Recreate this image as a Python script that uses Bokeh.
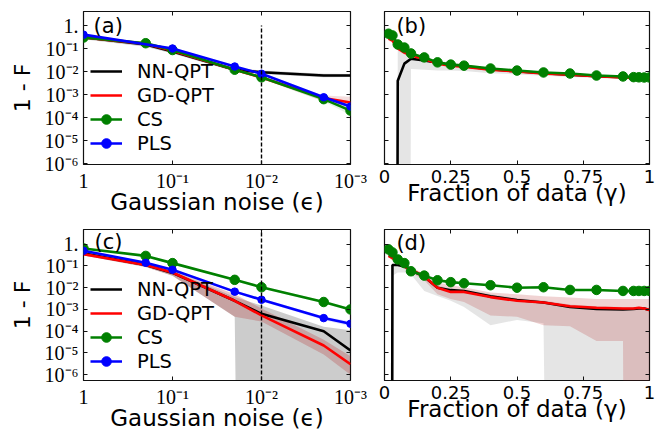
import numpy as np
from bokeh.plotting import figure
from bokeh.layouts import gridplot
from bokeh.models import (Range1d, FixedTicker, LogAxis, LinearAxis, Legend,
                          LegendItem, Label)
from bokeh.embed import file_html
from bokeh.resources import INLINE

# ---------------- data ----------------
noise = [1, 0.2, 0.1, 0.02, 0.01, 0.002, 0.001]
noise_pls_a = [1, 0.1, 0.02, 0.01, 0.002, 0.001]
frac = [0.015, 0.03, 0.05, 0.075, 0.1, 0.15, 0.2, 0.25, 0.3, 0.4, 0.5,
        0.6, 0.7, 0.8, 0.9, 0.94, 0.96, 0.98, 1.0]
eps_marker = 0.01

# panel (a): noise, dataset 1
a_nn = [0.31, 0.15, 0.074, 0.012, 0.0093, 0.0067, 0.0067]
a_nn_lo = [0.25, 0.12, 0.06, 0.010, 0.0078, 0.0057, 0.0058]
a_nn_hi = [0.38, 0.19, 0.09, 0.0145, 0.011, 0.008, 0.0078]
a_gd = [0.30, 0.16, 0.08, 0.012, 0.0055, 0.0007, 0.00045]
a_gd_lo = [0.26, 0.14, 0.07, 0.0105, 0.0048, 0.0005, 0.0003]
a_gd_hi = [0.34, 0.18, 0.09, 0.0135, 0.0062, 0.0009, 0.0008]
a_cs = [0.30, 0.17, 0.086, 0.012, 0.0056, 0.00063, 0.0002]
a_cs_lo = [0.26, 0.15, 0.075, 0.0105, 0.0048, 0.0005, 0.00013]
a_cs_hi = [0.34, 0.19, 0.097, 0.0135, 0.0064, 0.00075, 0.00028]
a_pls = [0.40, 0.10, 0.0165, 0.0080, 0.00076, 0.0003]
a_pls_lo = [0.36, 0.09, 0.0148, 0.0071, 0.00065, 0.00024]
a_pls_hi = [0.44, 0.11, 0.0183, 0.009, 0.00088, 0.00037]

# panel (b): fraction of data, dataset 1
b_nn = [0, 0, 0.004, 0.022, 0.036, 0.03, 0.024, 0.019, 0.017, 0.0125, 0.0102,
        0.0084, 0.0073, 0.0063, 0.0056, 0.0053, 0.0051, 0.005, 0.0049]
b_nn_lo = [0, 0, 0, 0, 0.013, 0.012, 0.011, 0.011, 0.0105, 0.0085, 0.0075,
           0.0065, 0.0058, 0.0052, 0.0047, 0.0045, 0.0044, 0.0043, 0.0042]
b_nn_hi = [0, 0, 0.15, 0.1, 0.06, 0.042, 0.03, 0.024, 0.021, 0.015, 0.012,
           0.0098, 0.0085, 0.0073, 0.0065, 0.0062, 0.006, 0.0058, 0.0057]
b_gd = [0.27, 0.22, 0.10, 0.066, 0.05, 0.035, 0.022, 0.018, 0.016, 0.012, 0.010,
        0.0082, 0.0072, 0.0062, 0.0055, 0.0052, 0.0050, 0.0049, 0.0048]
b_gd_lo = [0.22, 0.18, 0.085, 0.055, 0.042, 0.03, 0.019, 0.0155, 0.0138, 0.0104,
           0.0087, 0.0071, 0.0062, 0.0054, 0.0048, 0.0045, 0.0043, 0.0042, 0.0041]
b_gd_hi = [0.32, 0.26, 0.12, 0.08, 0.06, 0.041, 0.026, 0.021, 0.0185, 0.014,
           0.0115, 0.0095, 0.0083, 0.0072, 0.0064, 0.006, 0.0058, 0.0057, 0.0056]
b_cs = [0.44, 0.37, 0.15, 0.11, 0.061, 0.041, 0.025, 0.020, 0.018, 0.0135, 0.011,
        0.0091, 0.0082, 0.0067, 0.0061, 0.0057, 0.0056, 0.0055, 0.0055]
b_cs_lo = [0.40, 0.33, 0.135, 0.099, 0.055, 0.037, 0.0225, 0.018, 0.0162, 0.0122,
           0.0099, 0.0082, 0.0074, 0.006, 0.0055, 0.0051, 0.005, 0.005, 0.005]
b_cs_hi = [0.48, 0.41, 0.165, 0.121, 0.067, 0.045, 0.0275, 0.022, 0.0198, 0.0149,
           0.0121, 0.01, 0.009, 0.0074, 0.0067, 0.0063, 0.0062, 0.006, 0.006]

# panel (c): noise, dataset 2
c_nn = [0.38, 0.11, 0.048, 0.0025, 0.00063, 0.0001, 1.3e-5]
c_nn_lo = [0.30, 0.09, 0.035, 0.00046, 0, 0, 0]
c_nn_hi = [0.45, 0.13, 0.058, 0.0037, 0.0015, 0.00016, 0.00011]
c_gd = [0.35, 0.11, 0.05, 0.0025, 0.00053, 2.2e-5, 3.0e-6]
c_gd_lo = [0.30, 0.09, 0.035, 0.00046, 0.00028, 8.5e-6, 1.0e-6]
c_gd_hi = [0.40, 0.13, 0.062, 0.005, 0.0011, 4.0e-5, 7e-6]
c_cs = [0.64, 0.29, 0.135, 0.023, 0.0105, 0.0022, 0.001]
c_cs_lo = [0.58, 0.26, 0.12, 0.020, 0.0092, 0.0019, 0.00085]
c_cs_hi = [0.70, 0.32, 0.15, 0.026, 0.012, 0.0025, 0.00115]
c_pls = [0.5, 0.14, 0.067, 0.0066, 0.0028, 0.0004, 0.00022]
c_pls_lo = [0.45, 0.125, 0.06, 0.0058, 0.0024, 0.00033, 0.00017]
c_pls_hi = [0.55, 0.155, 0.075, 0.0076, 0.0033, 0.00048, 0.00028]

# panel (d): fraction of data, dataset 2
d_nn = [0, 0.11, 0.11, 0.095, 0.065, 0.032, 0.01, 0.0077, 0.0071, 0.004, 0.0027,
        0.0021, 0.0013, 0.00105, 0.001, 0.00105, 0.0011, 0.0011, 0.00095]
d_nn_lo = [0, 0.035, 0.05, 0.05, 0.04, 0.0071, 0.0042, 0.0025, 0.0013, 0.00019,
           0.00033, 0.00023, 0, 0, 0, 0, 0, 0, 0]
d_nn_hi = [0, 0.13, 0.13, 0.11, 0.08, 0.04, 0.013, 0.009, 0.0085, 0.005, 0.0033,
           0.0026, 0.0017, 0.0014, 0.0013, 0.0013, 0.0013, 0.0013, 0.0012]
d_gd = [0.29, 0.23, 0.16, 0.095, 0.067, 0.033, 0.01, 0.0064, 0.0064, 0.0037,
        0.0025, 0.0021, 0.0014, 0.0012, 0.0011, 0.0011, 0.0012, 0.0011, 0.00095]
d_gd_lo = [0.25, 0.18, 0.13, 0.075, 0.05, 0.022, 0.005, 0.003, 0.0022, 0.00053,
           0.00046, 0.00019, 0.00017, 3.5e-5, 3.5e-5, 0, 0, 0, 0]
d_gd_hi = [0.35, 0.27, 0.19, 0.12, 0.085, 0.045, 0.0175, 0.013, 0.0105, 0.006,
           0.005, 0.004, 0.0035, 0.003, 0.003, 0.003, 0.003, 0.003, 0.003]
d_cs = [0.58, 0.42, 0.20, 0.135, 0.057, 0.036, 0.022, 0.018, 0.016, 0.013, 0.010,
        0.0105, 0.0079, 0.0079, 0.0071, 0.0071, 0.0071, 0.0071, 0.0071]
d_cs_lo = [0.53, 0.38, 0.18, 0.122, 0.051, 0.032, 0.0198, 0.0162, 0.0144, 0.0117,
           0.009, 0.0094, 0.0071, 0.0071, 0.0064, 0.0064, 0.0064, 0.0064, 0.0064]
d_cs_hi = [0.63, 0.46, 0.22, 0.148, 0.063, 0.04, 0.0242, 0.0198, 0.0176, 0.0143,
           0.011, 0.0116, 0.0087, 0.0087, 0.0078, 0.0078, 0.0078, 0.0078, 0.0078]

# ticks and texts
log_x_ticks = [1, 0.1, 0.01, 0.001]
log_x_labels = ["1", "10⁻¹", "10⁻²", "10⁻³"]
lin_x_ticks = [0, 0.25, 0.5, 0.75, 1]
lin_x_labels = ["0", "0.25", "0.5", "0.75", "1"]
y_ticks = [1, 1e-1, 1e-2, 1e-3, 1e-4, 1e-5, 1e-6]
y_labels = ["1.", "10⁻¹", "10⁻²", "10⁻³", "10⁻⁴", "10⁻⁵", "10⁻⁶"]
series_names = ["NN-QPT", "GD-QPT", "CS", "PLS"]
xlabel_noise = "Gaussian noise (ϵ)"
xlabel_frac = "Fraction of data (γ)"
ylabel = "1 - F"

FLOOR = 1e-100
SERIF = "Liberation Serif"
SANS = "DejaVu Sans"
C_NN, C_GD, C_CS, C_PLS = "black", "red", "green", "blue"
FRAME = "#111111"


def fl(v):
    return np.maximum(np.asarray(v, dtype=float), FLOOR)


def style_axis(ax, ticks, labels, font, size, show=True, standoff=5):
    ax.ticker = FixedTicker(ticks=ticks, minor_ticks=[])
    ax.major_label_overrides = dict(zip(ticks, labels))
    ax.major_tick_in = 4
    ax.major_tick_out = 0
    ax.major_tick_line_color = FRAME
    ax.major_tick_line_width = 1
    ax.minor_tick_line_color = None
    ax.axis_line_color = None
    ax.major_label_text_font = font
    if show:
        ax.major_label_text_font_size = size
        ax.major_label_text_color = "black"
        ax.major_label_standoff = standoff
    else:
        ax.major_label_text_font_size = "1px"
        ax.major_label_text_color = None
        ax.major_label_standoff = 0


def make_fig(width, height, xr, yr, xlog, bl, br, bt, bb, xlabel, ylab, xs):
    p = figure(width=width, height=height, x_range=xr, y_range=yr,
               x_axis_type="log" if xlog else "linear", y_axis_type="log",
               output_backend="svg", toolbar_location=None,
               min_border_left=bl, min_border_right=br,
               min_border_top=bt, min_border_bottom=bb)
    p.grid.visible = False
    p.outline_line_color = FRAME
    p.outline_line_width = 1.2
    p.background_fill_color = "white"
    p.border_fill_color = "white"
    xt = log_x_ticks if xlog else lin_x_ticks
    xl = log_x_labels if xlog else lin_x_labels
    style_axis(p.xaxis[0], xt, xl, SERIF if xlog else SANS,
               "20px" if xlog else "18px", True, 5)
    style_axis(p.yaxis[0], y_ticks, y_labels, SERIF, "20px",
               ylab is not None, 5)
    xa = p.xaxis[0]
    xa.axis_label = xlabel
    xa.axis_label_text_font = SANS
    xa.axis_label_text_font_size = "23px"
    xa.axis_label_text_font_style = "normal"
    xa.axis_label_text_color = "black"
    xa.axis_label_standoff = xs
    if ylab is not None:
        ya = p.yaxis[0]
        ya.axis_label = ylab
        ya.axis_label_text_font = SANS
        ya.axis_label_text_font_size = "22px"
        ya.axis_label_text_font_style = "normal"
        ya.axis_label_text_color = "black"
        ya.axis_label_standoff = 7
    top = LogAxis() if xlog else LinearAxis()
    style_axis(top, xt, xl, SANS, "1px", False)
    p.add_layout(top, "above")
    right = LogAxis()
    style_axis(right, y_ticks, y_labels, SANS, "1px", False)
    p.add_layout(right, "right")
    return p


def band(p, x, lo, hi, color, alpha):
    p.varea(x=list(x), y1=fl(lo), y2=fl(hi), fill_color=color, fill_alpha=alpha)


def add_lines(p, x_all, x_pls, nn, gd, cs, pls):
    r_nn = p.line(list(x_all), fl(nn), line_color=C_NN, line_width=2.6)
    r_gd = p.line(list(x_all), fl(gd), line_color=C_GD, line_width=2.6)
    r_cs = p.line(list(x_all), fl(cs), line_color=C_CS, line_width=2.6)
    r_csm = p.scatter(list(x_all), fl(cs), size=9.5, fill_color=C_CS,
                      line_color=C_CS, marker="circle")
    items = [LegendItem(label=series_names[0], renderers=[r_nn]),
             LegendItem(label=series_names[1], renderers=[r_gd]),
             LegendItem(label=series_names[2], renderers=[r_cs, r_csm])]
    if pls is not None:
        r_pls = p.line(list(x_pls), fl(pls), line_color=C_PLS, line_width=2.6)
        r_plsm = p.scatter(list(x_pls), fl(pls), size=7.5, fill_color=C_PLS,
                           line_color=C_PLS, marker="circle")
        items.append(LegendItem(label=series_names[3], renderers=[r_pls, r_plsm]))
    return items


def add_legend(p, items, loc):
    lg = Legend(items=items, location=loc, border_line_color=None,
                background_fill_alpha=0, padding=0, margin=0, spacing=0,
                glyph_width=32, glyph_height=24, label_height=24,
                label_standoff=15, label_text_font=SANS,
                label_text_font_size="19.5px", label_text_color="black")
    p.add_layout(lg)


def panel_label(p, x, y, text):
    p.add_layout(Label(x=x, y=y, text=text, text_font=SANS,
                       text_font_size="21px", text_baseline="middle",
                       text_align="left", text_color="black"))


top_y = (9.1e-7, 4.06)
bot_y = (5.4e-7, 4.75)

# ---- (a)
pa = make_fig(368, 220, Range1d(1, 0.001), Range1d(*top_y), True,
              83, 17, 11, 56, xlabel_noise, ylabel, -6)
band(pa, noise, a_nn_lo, a_nn_hi, "black", 0.2)
band(pa, noise, a_gd_lo, a_gd_hi, "#b22222", 0.15)
band(pa, noise, a_cs_lo, a_cs_hi, "green", 0.1)
band(pa, noise_pls_a, a_pls_lo, a_pls_hi, "blue", 0.1)
items_a = add_lines(pa, noise, noise_pls_a, a_nn, a_gd, a_cs, a_pls)
pa.segment(x0=[eps_marker], y0=[top_y[0]], x1=[eps_marker], y1=[1],
           line_color="black", line_width=1.4, line_dash="4 2")
add_legend(pa, items_a, (7, 9))
panel_label(pa, 0.77, 1.0, "(a)")

# ---- (b)
pb = make_fig(297, 220, Range1d(0, 1), Range1d(*top_y), False,
              16, 12, 11, 56, xlabel_frac, None, -6)
band(pb, frac, b_nn_lo, b_nn_hi, "black", 0.1)
band(pb, frac, b_gd_lo, b_gd_hi, "#b22222", 0.12)
band(pb, frac, b_cs_lo, b_cs_hi, "green", 0.08)
add_lines(pb, frac, None, b_nn, b_gd, b_cs, None)
panel_label(pb, 0.045, 1.0, "(b)")

# ---- (c)
pc = make_fig(368, 213, Range1d(1, 0.001), Range1d(*bot_y), True,
              83, 18, 9, 50, xlabel_noise, ylabel, -6)
band(pc, noise, c_nn_lo, c_nn_hi, "black", 0.2)
band(pc, noise, c_gd_lo, c_gd_hi, "#b22222", 0.25)
band(pc, noise, c_cs_lo, c_cs_hi, "green", 0.1)
band(pc, noise, c_pls_lo, c_pls_hi, "blue", 0.12)
items_c = add_lines(pc, noise, noise, c_nn, c_gd, c_cs, c_pls)
pc.segment(x0=[eps_marker], y0=[bot_y[0]], x1=[eps_marker], y1=[bot_y[1]],
           line_color="black", line_width=1.4, line_dash="4 2")
add_legend(pc, items_c, (7, 7))
panel_label(pc, 0.75, 1.2, "(c)")

# ---- (d)
pd = make_fig(297, 213, Range1d(0, 1), Range1d(*bot_y), False,
              14, 16, 9, 50, xlabel_frac, None, -6)
band(pd, frac, d_nn_lo, d_nn_hi, "black", 0.1)
band(pd, frac, d_gd_lo, d_gd_hi, "#b22222", 0.2)
band(pd, frac, d_cs_lo, d_cs_hi, "green", 0.08)
add_lines(pd, frac, None, d_nn, d_gd, d_cs, None)
panel_label(pd, 0.045, 1.1, "(d)")

grid = gridplot([[pa, pb], [pc, pd]], toolbar_location=None)
open("out.html", "w").write(file_html(grid, INLINE))
